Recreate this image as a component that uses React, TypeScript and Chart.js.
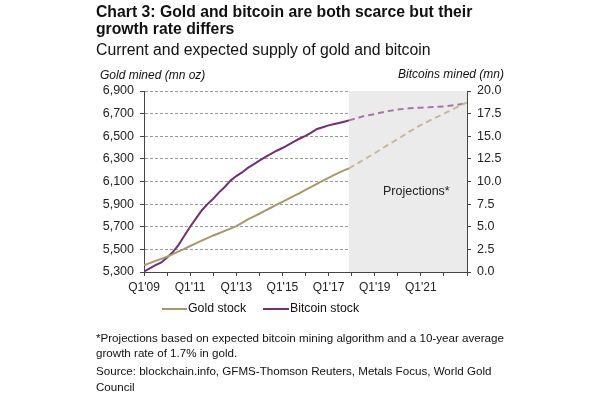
import React, { useEffect, useRef } from "react";
import { Chart, registerables } from "chart.js";

Chart.register(...registerables);

// ---- Data ----
const histDates = [
  2009.0, 2009.25, 2009.5, 2009.75, 2010.0, 2010.25, 2010.5, 2010.75,
  2011.0, 2011.25, 2011.5, 2011.75, 2012.0, 2012.25, 2012.5, 2012.75,
  2013.0, 2013.25, 2013.5, 2013.75, 2014.0, 2014.25, 2014.5, 2014.75,
  2015.0, 2015.25, 2015.5, 2015.75, 2016.0, 2016.25, 2016.5, 2016.75,
  2017.0, 2017.25, 2017.5, 2017.75, 2017.88,
];
const goldHist = [
  5358, 5378, 5398, 5416, 5435, 5458, 5482, 5505,
  5530, 5553, 5577, 5600, 5623, 5643, 5663, 5684,
  5706, 5735, 5765, 5790, 5815, 5843, 5868, 5895,
  5920, 5946, 5972, 5998, 6025, 6052, 6080, 6107,
  6133, 6158, 6183, 6205, 6215,
];
const bitcoinHist = [
  0.05, 0.4, 0.75, 1.05, 1.6, 2.2, 3.0, 4.0,
  5.0, 5.9, 6.8, 7.5, 8.1, 8.8, 9.4, 10.1,
  10.6, 11.0, 11.5, 11.9, 12.3, 12.7, 13.05, 13.4,
  13.7, 14.05, 14.4, 14.75, 15.05, 15.4, 15.8, 16.0,
  16.2, 16.35, 16.5, 16.65, 16.75,
];
const projDates = [2017.88, 2018.5, 2019.0, 2019.5, 2020.0, 2020.5, 2021.0, 2021.5, 2022.0, 2022.5, 2023.0];
const goldProj = [6215, 6290, 6350, 6415, 6475, 6540, 6600, 6650, 6700, 6750, 6800];
const bitcoinProj = [16.75, 17.2, 17.45, 17.75, 17.95, 18.1, 18.15, 18.22, 18.3, 18.45, 18.65];

const projectionStart = 2017.88;
const xMin = 2009;
const xMax = 2023;
const goldMin = 5300;
const goldMax = 6900;
const goldStep = 200;
const btcMin = 0;
const btcMax = 20;
const btcStep = 2.5;

const GOLD = "#a8976d";
const GOLD_LIGHT = "#c6b999";
const PURPLE = "#71306f";
const PURPLE_LIGHT = "#a577a4";
const FONT = "'Liberation Sans', Arial, sans-serif";

const toPoints = (xs: number[], ys: number[]) => xs.map((x, i) => ({ x, y: ys[i] }));

const shadePlugin = {
  id: "shade",
  beforeDatasetsDraw(chart: any) {
    const { ctx, chartArea, scales } = chart;
    const x0 = scales.x.getPixelForValue(projectionStart);
    const x1 = scales.x.getPixelForValue(xMax);
    ctx.save();
    ctx.fillStyle = "#ebebeb";
    ctx.fillRect(x0, chartArea.top, x1 - x0, chartArea.bottom - chartArea.top);
    ctx.restore();
  },
};

export default function App() {
  const ref = useRef<HTMLCanvasElement>(null);

  useEffect(() => {
    if (!ref.current) return;
    const chart = new Chart(ref.current, {
      type: "line",
      data: {
        datasets: [
          {
            label: "Gold stock",
            data: toPoints(histDates, goldHist),
            yAxisID: "y",
            borderColor: GOLD,
            borderWidth: 2,
            pointRadius: 0,
          },
          {
            label: "Bitcoin stock",
            data: toPoints(histDates, bitcoinHist),
            yAxisID: "y1",
            borderColor: PURPLE,
            borderWidth: 2,
            pointRadius: 0,
          },
          {
            label: "Gold projection",
            data: toPoints(projDates, goldProj),
            yAxisID: "y",
            borderColor: GOLD_LIGHT,
            borderWidth: 2,
            borderDash: [6, 4],
            pointRadius: 0,
          },
          {
            label: "Bitcoin projection",
            data: toPoints(projDates, bitcoinProj),
            yAxisID: "y1",
            borderColor: PURPLE_LIGHT,
            borderWidth: 2,
            borderDash: [6, 4],
            pointRadius: 0,
          },
        ],
      },
      options: {
        responsive: false,
        animation: false,
        layout: { padding: { top: 91, left: 0, right: 0, bottom: 0 } },
        plugins: { legend: { display: false }, tooltip: { enabled: false } },
        scales: {
          x: {
            type: "linear",
            min: xMin,
            max: xMax,
            afterFit: (s: any) => {
              s.height = 122;
            },
            ticks: {
              stepSize: 1,
              autoSkip: false,
              maxRotation: 0,
              padding: 4,
              color: "#222",
              font: { family: FONT, size: 12 },
              callback: (v: any) => {
                const n = Math.round(Number(v));
                if ((n - xMin) % 2 === 0 && n < xMax) return "Q1'" + String(n).slice(2);
                return "";
              },
            },
            grid: {
              drawOnChartArea: false,
              drawTicks: true,
              tickLength: 4,
              tickColor: "#444",
              tickBorderDash: [],
            },
            border: { color: "#444", width: 1 },
          },
          y: {
            position: "left",
            min: goldMin,
            max: goldMax,
            afterFit: (s: any) => {
              s.width = 144;
            },
            ticks: {
              stepSize: goldStep,
              padding: 6,
              color: "#222",
              font: { family: FONT, size: 12.5 },
              callback: (v: any) => Number(v).toLocaleString("en-US"),
            },
            grid: {
              color: "#9a9a9a",
              lineWidth: 1,
              drawTicks: true,
              tickLength: 4,
              tickColor: "#444",
              tickBorderDash: [],
            },
            border: { color: "#444", width: 1, dash: [3, 2] },
          },
          y1: {
            position: "right",
            min: btcMin,
            max: btcMax,
            afterFit: (s: any) => {
              s.width = 133;
            },
            ticks: {
              stepSize: btcStep,
              padding: 6,
              color: "#222",
              font: { family: FONT, size: 12.5 },
              callback: (v: any) => Number(v).toFixed(1),
            },
            grid: {
              drawOnChartArea: false,
              drawTicks: true,
              tickLength: 4,
              tickColor: "#444",
              tickBorderDash: [],
            },
            border: { color: "#444", width: 1 },
          },
        },
      },
      plugins: [shadePlugin],
    } as any);
    return () => chart.destroy();
  }, []);

  const abs = (style: React.CSSProperties): React.CSSProperties => ({ position: "absolute", margin: 0, ...style });

  return (
    <div style={{ position: "fixed", left: 0, top: 0, width: 600, height: 394, background: "#fff", fontFamily: FONT, color: "#111" }}>
      <canvas ref={ref} width={600} height={394} style={abs({ left: 0, top: 0, width: 600, height: 394 })} />
      <div style={abs({ left: 96, top: 3, fontSize: 15.75, fontWeight: "bold", lineHeight: "17px", whiteSpace: "nowrap" })}>
        Chart 3: Gold and bitcoin are both scarce but their
        <br />
        growth rate differs
      </div>
      <div style={abs({ left: 96, top: 41, fontSize: 15.8, whiteSpace: "nowrap" })}>
        Current and expected supply of gold and bitcoin
      </div>
      <div style={abs({ left: 100, top: 68, fontSize: 12, fontStyle: "italic", whiteSpace: "nowrap" })}>
        Gold mined (mn oz)
      </div>
      <div style={abs({ right: 96, top: 67, fontSize: 12, fontStyle: "italic", whiteSpace: "nowrap" })}>
        Bitcoins mined (mn)
      </div>
      <div style={abs({ left: 383, top: 184, fontSize: 12.5, whiteSpace: "nowrap", color: "#222" })}>
        Projections*
      </div>
      <div style={abs({ left: 162, top: 308, width: 25, height: 2, background: GOLD })} />
      <div style={abs({ left: 188, top: 301, fontSize: 12.3, whiteSpace: "nowrap" })}>Gold stock</div>
      <div style={abs({ left: 263, top: 308, width: 26, height: 2, background: PURPLE })} />
      <div style={abs({ left: 290, top: 301, fontSize: 12.3, whiteSpace: "nowrap" })}>Bitcoin stock</div>
      <div style={abs({ left: 96, top: 330, fontSize: 11.6, lineHeight: "15px", whiteSpace: "nowrap" })}>
        *Projections based on expected bitcoin mining algorithm and a 10-year average
        <br />
        growth rate of 1.7% in gold.
      </div>
      <div style={abs({ left: 96, top: 363, fontSize: 11.6, lineHeight: "16px", whiteSpace: "nowrap" })}>
        Source: blockchain.info, GFMS-Thomson Reuters, Metals Focus, World Gold
        <br />
        Council
      </div>
    </div>
  );
}
